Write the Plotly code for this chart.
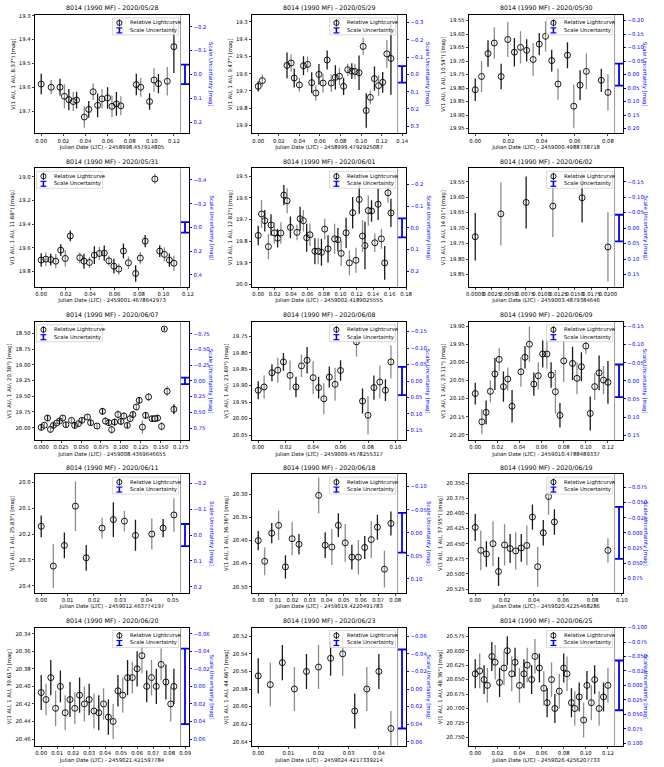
import plotly.graph_objects as go

OBJECT = "8014 (1990 MF)"
DATES = ["2020/05/28", "2020/05/29", "2020/05/30", "2020/05/31", "2020/06/01", "2020/06/02",
         "2020/06/07", "2020/06/08", "2020/06/09", "2020/06/11", "2020/06/18", "2020/06/19",
         "2020/06/20", "2020/06/23", "2020/06/25"]
JD0 = ["2458998.457914805", "2458999.4792925087", "2459000.4988738718", "2459001.4678642973",
       "2459002.4189025555", "2459003.4879384646", "2459008.4369646655", "2459009.4578255317",
       "2459010.4788489337", "2459012.463774197", "2459019.4220491783", "2459020.4225468286",
       "2459021.421597784", "2459024.4217339214", "2459026.4256207733"]
PHASE = ["8.37", "9.47", "10.54", "11.68", "12.82", "14.01", "20.38", "21.69", "23.11",
         "25.83", "36.36", "37.95", "39.61", "44.66", "48.36"]
ZERO_MAG = [19.546, 19.604, 19.750, 19.428, 19.738, 19.700, 19.255, 19.886, 20.051,
            20.204, 20.383, 20.432, 20.400, 20.580, 20.660]
SCALE_UNC = [0.041, 0.048, 0.041, 0.045, 0.044, 0.043, 0.053, 0.043, 0.045,
             0.043, 0.043, 0.043, 0.043, 0.045, 0.043]

t_0528 = [0.000, 0.009, 0.017, 0.021, 0.025, 0.029, 0.032, 0.039, 0.043, 0.047, 0.051, 0.055,
          0.060, 0.064, 0.068, 0.072, 0.086, 0.090, 0.098, 0.102, 0.106, 0.114, 0.120]
m_0528 = [19.587, 19.600, 19.600, 19.638, 19.652, 19.660, 19.654, 19.725, 19.693, 19.619, 19.676,
          19.649, 19.645, 19.680, 19.670, 19.678, 19.589, 19.600, 19.660, 19.570, 19.585, 19.575, 19.430]
e_0528 = [0.043, 0.030, 0.035, 0.050, 0.045, 0.040, 0.035, 0.045, 0.035, 0.035, 0.050, 0.040,
          0.045, 0.045, 0.050, 0.040, 0.045, 0.040, 0.035, 0.050, 0.040, 0.060, 0.110]

t_0529 = [0.000, 0.004, 0.028, 0.032, 0.035, 0.040, 0.044, 0.048, 0.052, 0.056, 0.059, 0.063,
          0.067, 0.071, 0.075, 0.079, 0.083, 0.087, 0.091, 0.094, 0.098, 0.102, 0.105, 0.109,
          0.113, 0.117, 0.121, 0.125, 0.129]
m_0529 = [19.673, 19.640, 19.552, 19.538, 19.625, 19.665, 19.554, 19.546, 19.652, 19.712, 19.604,
          19.654, 19.521, 19.654, 19.621, 19.615, 19.673, 19.577, 19.585, 19.587, 19.594, 19.442,
          19.813, 19.737, 19.629, 19.669, 19.650, 19.485, 19.512]
e_0529 = [0.030, 0.035, 0.075, 0.050, 0.055, 0.040, 0.055, 0.045, 0.060, 0.045, 0.060, 0.055,
          0.055, 0.050, 0.070, 0.050, 0.050, 0.035, 0.045, 0.045, 0.100, 0.050, 0.100, 0.040,
          0.070, 0.060, 0.060, 0.080, 0.210]

t_0530 = [0.0000, 0.0038, 0.0077, 0.0115, 0.0156, 0.0196, 0.0236, 0.0273, 0.0310, 0.0349,
          0.0386, 0.0424, 0.0461, 0.0499, 0.0556, 0.0594, 0.0632, 0.0670, 0.0760, 0.0800]
m_0530 = [19.806, 19.757, 19.672, 19.633, 19.757, 19.620, 19.667, 19.649, 19.660, 19.694,
          19.637, 19.608, 19.698, 19.785, 19.678, 19.867, 19.789, 19.738, 19.771, 19.816]
e_0530 = [0.042, 0.057, 0.049, 0.058, 0.047, 0.065, 0.053, 0.060, 0.041, 0.060,
          0.041, 0.056, 0.040, 0.058, 0.048, 0.080, 0.055, 0.066, 0.043, 0.067]

t_0531 = [0.0000, 0.0038, 0.0078, 0.0119, 0.0160, 0.0197, 0.0238, 0.0316, 0.0350, 0.0395,
          0.0435, 0.0476, 0.0516, 0.0554, 0.0595, 0.0635, 0.0673, 0.0714, 0.0773, 0.0811,
          0.0851, 0.0930, 0.0970, 0.1008, 0.1049, 0.1086]
m_0531 = [19.704, 19.696, 19.700, 19.713, 19.620, 19.690, 19.500, 19.684, 19.713, 19.724,
          19.662, 19.648, 19.645, 19.710, 19.755, 19.780, 19.628, 19.727, 19.817, 19.687,
          19.544, 19.020, 19.628, 19.656, 19.704, 19.730]
e_0531 = [0.057, 0.057, 0.050, 0.060, 0.050, 0.070, 0.045, 0.047, 0.063, 0.047,
          0.075, 0.056, 0.065, 0.042, 0.063, 0.047, 0.063, 0.053, 0.070, 0.053,
          0.052, 0.040, 0.050, 0.060, 0.056, 0.065]

t_0601 = [0.000, 0.004, 0.008, 0.0124, 0.0156, 0.0196, 0.0236, 0.0276, 0.0312, 0.0352,
          0.0392, 0.0472, 0.051, 0.055, 0.059, 0.063, 0.069, 0.073, 0.077, 0.081,
          0.085, 0.093, 0.097, 0.101, 0.107, 0.111, 0.115, 0.119, 0.123, 0.127,
          0.130, 0.134, 0.138, 0.142, 0.146, 0.150, 0.154, 0.158, 0.1616]
m_0601 = [19.773, 19.674, 19.705, 19.825, 19.725, 19.761, 19.786, 19.762, 19.587, 19.613,
          19.736, 19.759, 19.696, 19.705, 19.784, 19.770, 19.846, 19.846, 19.851, 19.744,
          19.835, 19.789, 19.793, 19.856, 19.761, 19.900, 19.668, 19.888, 19.607, 19.776,
          19.820, 19.658, 19.660, 19.807, 19.629, 19.789, 19.900, 19.576, 19.669]
e_0601 = [0.045, 0.065, 0.050, 0.058, 0.050, 0.050, 0.043, 0.050, 0.047, 0.058,
          0.050, 0.036, 0.055, 0.050, 0.065, 0.052, 0.060, 0.060, 0.062, 0.048,
          0.063, 0.070, 0.054, 0.058, 0.070, 0.057, 0.073, 0.058, 0.066, 0.073,
          0.110, 0.070, 0.050, 0.043, 0.073, 0.046, 0.078, 0.045, 0.065]

t_0602 = [0.0000, 0.00386, 0.00767, 0.0117, 0.0161, 0.0200]
m_0602 = [19.728, 19.654, 19.617, 19.629, 19.602, 19.761]
e_0602 = [0.077, 0.102, 0.084, 0.100, 0.080, 0.112]

t_0607 = [0.000, 0.004, 0.008, 0.0116, 0.0153, 0.0194, 0.023, 0.027, 0.031, 0.038,
          0.042, 0.0467, 0.051, 0.058, 0.062, 0.070, 0.0769, 0.0806, 0.0847, 0.0884,
          0.0921, 0.0963, 0.100, 0.1037, 0.108, 0.1116, 0.115, 0.1194, 0.123, 0.127,
          0.131, 0.1347, 0.139, 0.1426, 0.146, 0.151, 0.1545, 0.158, 0.1665]
m_0607 = [19.995, 19.960, 19.846, 20.027, 19.963, 19.926, 19.894, 19.846, 19.952, 19.883,
          19.963, 19.936, 19.883, 19.830, 19.920, 19.973, 19.739, 19.894, 19.920, 20.030,
          19.910, 19.790, 19.900, 19.814, 19.963, 19.856, 19.790, 19.670, 19.564, 19.990,
          19.803, 19.510, 19.856, 19.856, 19.846, 19.979, 18.430, 19.420, 19.707]
e_0607 = [0.040, 0.043, 0.043, 0.053, 0.043, 0.043, 0.043, 0.043, 0.043, 0.043,
          0.053, 0.043, 0.043, 0.043, 0.043, 0.043, 0.053, 0.064, 0.053, 0.064,
          0.053, 0.064, 0.053, 0.064, 0.043, 0.053, 0.053, 0.053, 0.053, 0.106,
          0.053, 0.064, 0.043, 0.053, 0.043, 0.064, 0.027, 0.080, 0.080]

t_0608 = [0.000, 0.0043, 0.010, 0.0143, 0.0184, 0.0232, 0.0275, 0.0315, 0.0356, 0.040,
          0.044, 0.0478, 0.0518, 0.056, 0.060, 0.0716, 0.076, 0.080, 0.0843, 0.0886,
          0.0927, 0.0967]
m_0608 = [19.914, 19.904, 19.861, 19.853, 19.828, 19.869, 19.904, 19.840, 19.823, 19.876,
          19.906, 19.940, 19.874, 19.896, 19.854, 19.767, 19.947, 19.990, 19.906, 19.889,
          19.914, 19.828]
e_0608 = [0.027, 0.035, 0.026, 0.038, 0.027, 0.045, 0.031, 0.034, 0.040, 0.050,
          0.033, 0.047, 0.032, 0.050, 0.031, 0.045, 0.038, 0.058, 0.037, 0.050,
          0.033, 0.050]

t_0609 = [0.000, 0.006, 0.0098, 0.0137, 0.0178, 0.0217, 0.0255, 0.0294, 0.0333, 0.0413,
          0.045, 0.049, 0.053, 0.057, 0.061, 0.0648, 0.0686, 0.0725, 0.0766, 0.080,
          0.088, 0.092, 0.096, 0.100, 0.104, 0.108, 0.112, 0.116, 0.120]
m_0609 = [20.086, 20.164, 20.138, 20.080, 20.032, 19.992, 20.067, 20.046, 20.121, 20.026,
          19.986, 19.950, 20.060, 20.037, 19.977, 19.977, 20.035, 20.081, 20.146, 19.996,
          20.003, 20.044, 20.012, 19.955, 20.141, 20.067, 20.029, 20.049, 20.055]
e_0609 = [0.030, 0.034, 0.033, 0.030, 0.044, 0.031, 0.042, 0.032, 0.045, 0.041,
          0.031, 0.049, 0.032, 0.037, 0.037, 0.041, 0.035, 0.060, 0.034, 0.058,
          0.046, 0.044, 0.040, 0.021, 0.047, 0.037, 0.048, 0.039, 0.059]

t_0611 = [0.0000, 0.0046, 0.0088, 0.0130, 0.0171, 0.0231, 0.0274, 0.0316, 0.0358, 0.0420,
          0.0463, 0.0504]
m_0611 = [20.170, 20.324, 20.244, 20.092, 20.292, 20.177, 20.144, 20.150, 20.205, 20.200,
          20.177, 20.126]
e_0611 = [0.042, 0.085, 0.050, 0.096, 0.050, 0.040, 0.067, 0.040, 0.060, 0.060,
          0.035, 0.065]

t_0618 = [0.0000, 0.0038, 0.0079, 0.0119, 0.0159, 0.0198, 0.0238, 0.0353, 0.0391, 0.0430,
          0.0468, 0.0508, 0.0547, 0.0585, 0.0622, 0.0660, 0.0696, 0.0737, 0.0775]
m_0618 = [20.400, 20.445, 20.384, 20.367, 20.457, 20.396, 20.408, 20.302, 20.410, 20.414,
          20.367, 20.405, 20.436, 20.436, 20.415, 20.398, 20.371, 20.462, 20.363]
e_0618 = [0.021, 0.030, 0.022, 0.032, 0.025, 0.036, 0.022, 0.039, 0.028, 0.039,
          0.026, 0.041, 0.027, 0.037, 0.025, 0.040, 0.027, 0.040, 0.026]

t_0619 = [0.0000, 0.0038, 0.0076, 0.0121, 0.0159, 0.0200, 0.0238, 0.0276, 0.0314, 0.0352,
          0.0390, 0.0426, 0.0464, 0.0500, 0.0540, 0.0905]
m_0619 = [20.423, 20.461, 20.467, 20.450, 20.496, 20.452, 20.458, 20.462, 20.457, 20.453,
          20.406, 20.488, 20.432, 20.372, 20.414, 20.461]
e_0619 = [0.022, 0.033, 0.021, 0.037, 0.024, 0.034, 0.024, 0.031, 0.023, 0.033,
          0.021, 0.033, 0.021, 0.030, 0.021, 0.020]

t_0620 = [0.000, 0.003, 0.006, 0.009, 0.012, 0.015, 0.018, 0.021, 0.024, 0.027, 0.030,
          0.033, 0.036, 0.039, 0.042, 0.045, 0.048, 0.051, 0.054, 0.057, 0.060, 0.063,
          0.066, 0.069, 0.072, 0.075, 0.078, 0.081, 0.083]
m_0620 = [20.407, 20.415, 20.390, 20.425, 20.400, 20.430, 20.415, 20.425, 20.410, 20.420,
          20.415, 20.428, 20.430, 20.420, 20.435, 20.440, 20.405, 20.410, 20.390, 20.390,
          20.380, 20.365, 20.400, 20.390, 20.400, 20.375, 20.395, 20.420, 20.400]
e_0620 = [0.020, 0.018, 0.020, 0.020, 0.018, 0.020, 0.020, 0.018, 0.020, 0.020, 0.018,
          0.020, 0.020, 0.018, 0.020, 0.020, 0.018, 0.020, 0.020, 0.018, 0.020, 0.020,
          0.018, 0.020, 0.020, 0.018, 0.020, 0.020, 0.020]

t_0623 = [0.000, 0.004, 0.008, 0.012, 0.016, 0.020, 0.024, 0.028, 0.032, 0.036, 0.040, 0.044]
m_0623 = [20.565, 20.575, 20.550, 20.580, 20.560, 20.555, 20.545, 20.540, 20.605, 20.580,
          20.560, 20.625]
e_0623 = [0.020, 0.025, 0.020, 0.025, 0.020, 0.025, 0.020, 0.025, 0.020, 0.025, 0.020, 0.020]

t_0625 = [0.000, 0.004, 0.008, 0.011, 0.015, 0.018, 0.022, 0.026, 0.029, 0.033, 0.036,
          0.040, 0.044, 0.047, 0.051, 0.054, 0.058, 0.062, 0.065, 0.069, 0.072, 0.076,
          0.080, 0.083, 0.087, 0.090, 0.094, 0.098, 0.101, 0.105, 0.108, 0.112, 0.116, 0.120]
m_0625 = [20.640, 20.635, 20.650, 20.660, 20.610, 20.620, 20.655, 20.630, 20.600, 20.640,
          20.620, 20.660, 20.640, 20.625, 20.650, 20.610, 20.630, 20.665, 20.690, 20.650,
          20.700, 20.670, 20.630, 20.640, 20.690, 20.700, 20.680, 20.720, 20.660, 20.690,
          20.650, 20.700, 20.680, 20.660]
e_0625 = [0.025, 0.030, 0.025, 0.030, 0.025, 0.030, 0.025, 0.030, 0.025, 0.030, 0.025,
          0.030, 0.025, 0.030, 0.025, 0.030, 0.025, 0.030, 0.025, 0.030, 0.025, 0.030,
          0.025, 0.030, 0.025, 0.030, 0.025, 0.030, 0.025, 0.030, 0.025, 0.030, 0.025, 0.030]

NIGHTS = [(t_0528, m_0528, e_0528), (t_0529, m_0529, e_0529), (t_0530, m_0530, e_0530),
          (t_0531, m_0531, e_0531), (t_0601, m_0601, e_0601), (t_0602, m_0602, e_0602),
          (t_0607, m_0607, e_0607), (t_0608, m_0608, e_0608), (t_0609, m_0609, e_0609),
          (t_0611, m_0611, e_0611), (t_0618, m_0618, e_0618), (t_0619, m_0619, e_0619),
          (t_0620, m_0620, e_0620), (t_0623, m_0623, e_0623), (t_0625, m_0625, e_0625)]

# axis setup (layout only)
Y_RANGE = [(19.297, 19.794), (19.26, 19.946), (19.529, 19.968), (18.93, 19.93), (19.463, 20.011),
           (19.507, 19.89), (18.314, 20.20), (19.706, 20.066), (19.888, 20.215), (19.968, 20.427),
           (20.256, 20.513), (20.335, 20.531), (20.333, 20.468), (20.51, 20.645), (20.56, 20.765)]
Y_STEP = [0.1, 0.1, 0.05, 0.2, 0.1, 0.05, 0.25, 0.05, 0.05, 0.1, 0.05, 0.025, 0.02, 0.02, 0.025]
X_STEP = [0.02, 0.02, 0.02, 0.02, 0.02, 0.0025, 0.025, 0.02, 0.02, 0.01, 0.01, 0.02, 0.01, 0.01, 0.02]
LEGEND_LEFT = {3, 6}

W, H = 664, 767
COL_X = [32, 252, 472]
ROW_Y = [12, 166, 320, 473, 627]
PW, PH = 157, 119
FONT = "DejaVu Sans"


def fmt(step):
    s = f"{step:g}"
    return ".%df" % (len(s.split(".")[1]) if "." in s else 0)


def px(x):
    return x / W


def py(y):
    return 1 - y / H


fig = go.Figure()
layout = {}
shapes, annos = [], []

for i, (t, m, e) in enumerate(NIGHTS):
    n = i + 1
    r, c = divmod(i, 3)
    x0, y0 = COL_X[c], ROW_Y[r]
    xs = "" if n == 1 else str(n)
    yl = "" if n == 1 else str(2 * n - 1)
    yr = str(2 * n)

    span = max(t) - min(t)
    xlo = min(t) - 0.05 * span
    xline = max(t) + 0.05 * span
    xbar = max(t) + 0.0835 * span
    xhi = max(t) + 0.117 * span

    for k, col in enumerate(["#1a1a1a", "#8c8c8c"]):
        idx = list(range(k, len(t), 2))
        fig.add_trace(go.Scatter(
            x=[t[j] for j in idx], y=[m[j] for j in idx],
            error_y=dict(type="data", array=[e[j] for j in idx], color=col, thickness=1.3, width=0),
            mode="markers",
            marker=dict(symbol="circle-open", size=6, color="black", line=dict(width=0.9)),
            xaxis="x" + xs, yaxis="y" + yl, showlegend=False, hoverinfo="x+y"))
    fig.add_trace(go.Scatter(
        x=[xbar], y=[0],
        error_y=dict(type="data", array=[SCALE_UNC[i]], color="blue", thickness=1.8, width=4),
        mode="markers", marker=dict(size=1, color="rgba(0,0,0,0)"),
        xaxis="x" + xs, yaxis="y" + yr, showlegend=False))

    ylo, yhi = Y_RANGE[i]
    z = ZERO_MAG[i]
    common = dict(showgrid=False, zeroline=False, ticks="outside", ticklen=2, tickwidth=0.6,
                  tickfont=dict(size=5.3, family=FONT, color="black"))
    layout["xaxis" + xs] = dict(
        domain=[px(x0), px(x0 + PW)], anchor="y" + yl, range=[xlo, xhi],
        tick0=0, dtick=X_STEP[i], tickformat=fmt(X_STEP[i]), tickangle=0,
        showline=True, mirror=True, linecolor="black", linewidth=0.7,
        title=dict(text="Julian Date (LTC) - " + JD0[i], font=dict(size=5.3, family=FONT), standoff=2),
        **common)
    layout["yaxis" + yl] = dict(
        domain=[py(y0 + PH), py(y0)], anchor="x" + xs, range=[yhi, ylo],
        tick0=0, dtick=Y_STEP[i], tickformat=fmt(Y_STEP[i]),
        showline=True, mirror=True, linecolor="black", linewidth=0.7,
        title=dict(text="V(1 AU, 1 AU, %s°) [mag]" % PHASE[i], font=dict(size=5.3, family=FONT), standoff=3),
        **common)
    rc = dict(common)
    rc["tickfont"] = dict(size=5.3, family=FONT, color="blue")
    layout["yaxis" + yr] = dict(
        overlaying="y" + yl, side="right", anchor="x" + xs,
        range=[yhi - z, ylo - z], tick0=0, dtick=Y_STEP[i], tickformat=fmt(Y_STEP[i]),
        showline=False, tickcolor="blue", **rc)

    shapes.append(dict(type="line", xref="x" + xs, yref="y" + yl + " domain",
                       x0=xline, x1=xline, y0=0, y1=1, line=dict(color="#808080", width=0.8)))

    annos.append(dict(text="%s - %s" % (OBJECT, DATES[i]), x=px(x0 + PW / 2), y=py(y0 - 1.5),
                      xref="paper", yref="paper", xanchor="center", yanchor="bottom",
                      showarrow=False, font=dict(size=6.3, family=FONT, color="#000000")))
    annos.append(dict(text="Scale Uncertainty [mag]", x=px(x0 + PW + 22), y=py(y0 + PH / 2),
                      xref="paper", yref="paper", xanchor="center", yanchor="middle", textangle=90,
                      showarrow=False, font=dict(size=5.3, family=FONT, color="blue")))

    # legend box
    line_px = x0 + PW * (xline - xlo) / (xhi - xlo)
    bw, bh = 67, 17
    bx = x0 + 2 if i in LEGEND_LEFT else line_px - 2 - bw
    by = y0 + 3
    shapes.append(dict(type="rect", xref="paper", yref="paper", x0=px(bx), x1=px(bx + bw),
                       y0=py(by), y1=py(by + bh), fillcolor="rgba(255,255,255,0.8)",
                       line=dict(color="#cccccc", width=0.7), layer="above"))
    cx = bx + 7
    shapes.append(dict(type="line", xref="paper", yref="paper", x0=px(cx), x1=px(cx),
                       y0=py(by + 1.5), y1=py(by + 8.5), line=dict(color="#1a1a1a", width=1)))
    shapes.append(dict(type="circle", xref="paper", yref="paper", x0=px(cx - 2.6), x1=px(cx + 2.6),
                       y0=py(by + 2.4), y1=py(by + 7.6), line=dict(color="black", width=0.9)))
    shapes.append(dict(type="line", xref="paper", yref="paper", x0=px(cx), x1=px(cx),
                       y0=py(by + 10), y1=py(by + 15), line=dict(color="blue", width=1.6)))
    for yy in (by + 10, by + 15):
        shapes.append(dict(type="line", xref="paper", yref="paper", x0=px(cx - 3), x1=px(cx + 3),
                           y0=py(yy), y1=py(yy), line=dict(color="blue", width=1.2)))
    for k, txt in enumerate(["Relative Lightcurve", "Scale Uncertainty"]):
        annos.append(dict(text=txt, x=px(bx + 16), y=py(by + 5 + 7.5 * k), xref="paper", yref="paper",
                          xanchor="left", yanchor="middle", showarrow=False,
                          font=dict(size=5.3, family=FONT, color="black")))

fig.update_layout(width=W, height=H, margin=dict(l=0, r=0, t=0, b=0),
                  paper_bgcolor="white", plot_bgcolor="white",
                  font=dict(family=FONT, color="black"), showlegend=False,
                  shapes=shapes, annotations=annos, **layout)
fig.write_html("out.html", config={"displayModeBar": False},
               post_script="document.body.style.margin='0';")
